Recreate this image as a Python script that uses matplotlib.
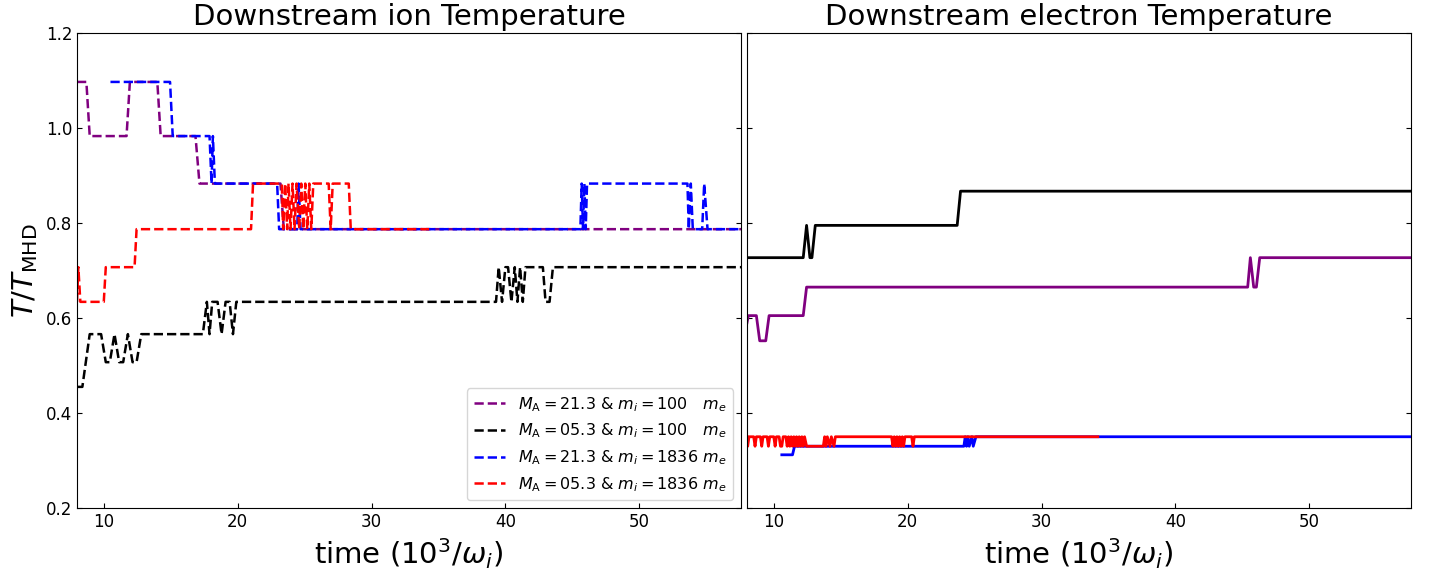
import numpy as np
import matplotlib
matplotlib.use("Agg")
import matplotlib.pyplot as plt

# (time [10^3/omega_i], T/T_MHD) breakpoints
# --- ion temperature (left panel, dashed)
ion_21_100 = np.array([
    (8.0, 1.097), (8.7, 1.097), (8.95, 0.983), (11.7, 0.983), (11.95, 1.097),
    (14.0, 1.097), (14.25, 0.983), (16.85, 0.983), (17.15, 0.883),
    (23.2, 0.883), (23.45, 0.787), (57.6, 0.787)])
ion_05_100 = np.array([
    (8.0, 0.455), (8.4, 0.455), (8.95, 0.566), (9.8, 0.566), (10.15, 0.507),
    (10.45, 0.507), (10.8, 0.566), (11.15, 0.507), (11.45, 0.507), (11.8, 0.566),
    (12.15, 0.507), (12.45, 0.507), (12.8, 0.566), (17.4, 0.566), (17.7, 0.634),
    (17.9, 0.566), (18.1, 0.634), (18.5, 0.634), (18.8, 0.566), (19.1, 0.634),
    (19.4, 0.634), (19.65, 0.566), (19.9, 0.634), (39.3, 0.634), (39.5, 0.707),
    (39.75, 0.634), (40.0, 0.707), (40.2, 0.707), (40.45, 0.634), (40.7, 0.707),
    (40.9, 0.634), (41.1, 0.707), (41.3, 0.634), (41.5, 0.707), (42.8, 0.707),
    (43.0, 0.634), (43.3, 0.634), (43.55, 0.707), (57.6, 0.707)])
ion_21_1836 = np.array([
    (10.5, 1.097), (14.95, 1.097), (15.15, 0.983), (17.9, 0.983), (18.05, 0.883),
    (18.15, 0.983), (18.3, 0.883), (22.95, 0.883), (23.1, 0.787), (24.45, 0.787),
    (24.55, 0.883), (24.7, 0.787), (45.6, 0.787), (45.7, 0.883), (45.8, 0.787),
    (45.9, 0.883), (46.0, 0.787), (46.1, 0.883), (53.6, 0.883), (53.7, 0.787),
    (53.85, 0.883), (54.0, 0.787), (54.7, 0.787), (54.85, 0.883), (55.1, 0.787),
    (57.6, 0.787)])
ion_05_1836 = np.array([
    (8.0, 0.634), (8.1, 0.707), (8.25, 0.634), (10.0, 0.634), (10.15, 0.707),
    (12.3, 0.707), (12.45, 0.787), (21.0, 0.787), (21.15, 0.883), (23.3, 0.883),
    (23.4, 0.787), (23.55, 0.883), (23.7, 0.787), (23.8, 0.883), (23.95, 0.787),
    (24.1, 0.883), (24.25, 0.787), (24.4, 0.883), (24.6, 0.787), (24.75, 0.883),
    (24.9, 0.787), (25.05, 0.883), (25.2, 0.787), (25.35, 0.883), (25.5, 0.787),
    (25.65, 0.883), (26.8, 0.883), (26.95, 0.787), (27.1, 0.883), (28.3, 0.883),
    (28.45, 0.787), (34.3, 0.787)])

# --- electron temperature (right panel, solid)
ele_21_100 = np.array([
    (8.0, 0.59), (8.1, 0.605), (8.7, 0.605), (8.95, 0.552), (9.4, 0.552),
    (9.65, 0.605), (12.2, 0.605), (12.45, 0.665), (45.4, 0.665), (45.6, 0.727),
    (45.85, 0.665), (46.05, 0.665), (46.3, 0.727), (57.6, 0.727)])
ele_05_100 = np.array([
    (8.0, 0.727), (12.2, 0.727), (12.45, 0.795), (12.7, 0.727), (12.85, 0.727),
    (13.1, 0.795), (23.7, 0.795), (23.95, 0.867), (57.6, 0.867)])
ele_21_1836 = np.array([
    (10.6, 0.312), (11.4, 0.312), (11.55, 0.33), (24.2, 0.33), (24.3, 0.35),
    (24.4, 0.33), (24.5, 0.35), (24.6, 0.33), (24.8, 0.35), (24.9, 0.33),
    (25.1, 0.35), (57.6, 0.35)])
ele_05_1836 = np.array([
    (8.0, 0.35), (8.05, 0.33), (8.15, 0.35), (8.5, 0.35), (8.6, 0.33), (8.7, 0.35),
    (9.0, 0.35), (9.1, 0.33), (9.2, 0.35), (9.5, 0.35), (9.6, 0.33), (9.7, 0.35),
    (10.0, 0.35), (10.1, 0.33), (10.2, 0.35), (10.4, 0.35), (10.5, 0.33),
    (10.6, 0.33), (10.7, 0.35), (10.9, 0.35), (11.0, 0.33), (11.1, 0.35),
    (11.2, 0.33), (11.3, 0.35), (11.4, 0.33), (11.5, 0.35), (11.6, 0.33),
    (11.7, 0.35), (11.8, 0.33), (11.9, 0.35), (12.0, 0.33), (12.1, 0.35),
    (12.2, 0.33), (12.3, 0.35), (12.45, 0.33), (13.7, 0.33), (13.8, 0.35),
    (13.9, 0.33), (14.0, 0.35), (14.2, 0.33), (14.3, 0.35), (14.5, 0.33),
    (14.6, 0.35), (18.8, 0.35), (18.9, 0.33), (19.0, 0.35), (19.1, 0.33),
    (19.2, 0.35), (19.3, 0.33), (19.4, 0.35), (19.5, 0.33), (19.6, 0.35),
    (19.7, 0.33), (19.8, 0.35), (20.3, 0.35), (20.4, 0.33), (20.5, 0.35),
    (34.2, 0.35)])

labels = [r"$M_{\rm A}=21.3$ & $m_i=100$   $m_e$",
          r"$M_{\rm A}=05.3$ & $m_i=100$   $m_e$",
          r"$M_{\rm A}=21.3$ & $m_i=1836$ $m_e$",
          r"$M_{\rm A}=05.3$ & $m_i=1836$ $m_e$"]
colors = ["purple", "black", "blue", "red"]

fig = plt.figure(figsize=(14.42, 5.75), dpi=100)
ax1 = fig.add_axes([77/1442, 67/575, 664/1442, 475/575])
ax2 = fig.add_axes([747/1442, 67/575, 664/1442, 475/575], sharey=ax1)

for d, c, lab in zip([ion_21_100, ion_05_100, ion_21_1836, ion_05_1836], colors, labels):
    ax1.plot(d[:, 0], d[:, 1], "--", color=c, lw=1.8, label=lab)
for d, c in zip([ele_21_100, ele_05_100, ele_21_1836, ele_05_1836], colors):
    ax2.plot(d[:, 0], d[:, 1], "-", color=c, lw=2)

for ax in (ax1, ax2):
    ax.set_xlim(8, 57.6)
    ax.set_xticks([10, 20, 30, 40, 50])
    ax.tick_params(direction="in", right=True, labelsize=12)
    ax.set_xlabel(r"time ($10^3/\omega_i$)", fontsize=21)
ax1.set_ylim(0.2, 1.2)
ax2.tick_params(labelleft=False)
ax1.set_ylabel(r"$T/T_{\rm MHD}$", fontsize=21)
ax1.set_title("Downstream ion Temperature", fontsize=21)
ax2.set_title("Downstream electron Temperature", fontsize=21)
ax1.legend(loc="lower right", fontsize=11.5)

fig.savefig("out.png", dpi=100)
